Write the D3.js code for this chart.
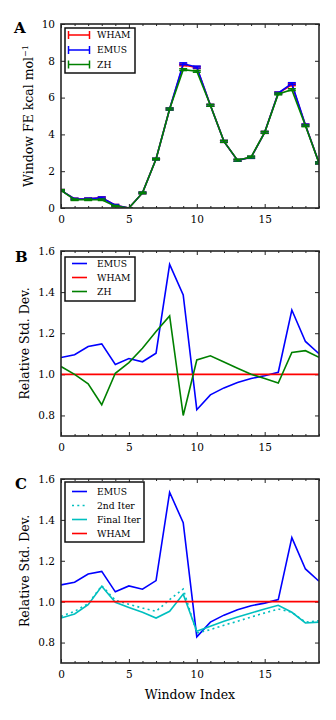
<!DOCTYPE html>
<html>
<head>
<meta charset="utf-8">
<script src="https://d3js.org/d3.v7.min.js"></script>
<style>
  body { margin: 0; background: #fff; }
  text { font-family: "DejaVu Serif", "Liberation Serif", serif; fill: #000; }
</style>
</head>
<body>
<svg id="chart" width="336" height="720"></svg>
<script>
// window indices 0..19
var windows = d3.range(0, 20);

// panel A: window free energies (kcal/mol)
var feWham = [0.96, 0.49, 0.50, 0.56, 0.15, 0.0, 0.82, 2.66, 5.38, 7.78, 7.64, 5.58, 3.62, 2.59, 2.75, 4.11, 6.25, 6.70, 4.51, 2.45];
var feEmus = [0.96, 0.49, 0.50, 0.56, 0.15, 0.0, 0.82, 2.66, 5.38, 7.84, 7.66, 5.58, 3.62, 2.59, 2.75, 4.11, 6.25, 6.76, 4.51, 2.45];
var feZh   = [0.96, 0.45, 0.45, 0.45, 0.10, 0.0, 0.82, 2.66, 5.38, 7.52, 7.43, 5.58, 3.62, 2.60, 2.77, 4.11, 6.20, 6.43, 4.47, 2.45];
var feErr  = [0.04, 0.04, 0.04, 0.04, 0.04, 0.0, 0.04, 0.04, 0.05, 0.05, 0.05, 0.05, 0.05, 0.05, 0.05, 0.05, 0.05, 0.05, 0.05, 0.05];

// panel B/C: relative standard deviation (WHAM = 1)
var rsdEmus  = [1.082, 1.095, 1.135, 1.148, 1.048, 1.077, 1.061, 1.103, 1.535, 1.386, 0.828, 0.900, 0.934, 0.960, 0.980, 0.993, 1.010, 1.313, 1.160, 1.100];
var rsdWham  = [1, 1, 1, 1, 1, 1, 1, 1, 1, 1, 1, 1, 1, 1, 1, 1, 1, 1, 1, 1];
var rsdZh    = [1.038, 1.000, 0.954, 0.852, 1.005, 1.057, 1.127, 1.208, 1.284, 0.800, 1.070, 1.090, 1.060, 1.030, 1.000, 0.980, 0.958, 1.106, 1.115, 1.083];
var rsd2nd   = [0.928, 0.953, 0.990, 1.078, 1.007, 0.987, 0.969, 0.953, 1.010, 1.062, 0.847, 0.863, 0.885, 0.904, 0.925, 0.945, 0.964, 0.948, 0.900, 0.907];
var rsdFinal = [0.920, 0.940, 0.985, 1.075, 0.997, 0.972, 0.948, 0.920, 0.953, 1.037, 0.855, 0.880, 0.904, 0.925, 0.945, 0.964, 0.982, 0.948, 0.896, 0.900];

var xTicks = [0, 5, 10, 15];
var yTicksA = [0, 2, 4, 6, 8, 10];
var yTicksB = [0.8, 1.0, 1.2, 1.4, 1.6];

var svg = d3.select("#chart");
var left = 61, right = 319;

var x = d3.scaleLinear().domain([0, 19]).range([left, right]);
var minorX = windows.filter(function(d) { return d % 5 != 0; });

function frame(y, yTicks, fmt) {
  var top = y.range()[1], bottom = y.range()[0];
  var g = svg.append("g");
  // bottom axis with labels
  g.append("g").attr("transform", "translate(0," + bottom + ")")
    .call(d3.axisBottom(x).tickValues(xTicks).tickSize(-4).tickPadding(7.5).tickFormat(d3.format("d")));
  g.append("g").attr("transform", "translate(0," + bottom + ")")
    .call(d3.axisBottom(x).tickValues(minorX).tickSize(-2).tickFormat(""));
  // top axis
  g.append("g").attr("transform", "translate(0," + top + ")")
    .call(d3.axisTop(x).tickValues(xTicks).tickSize(-4).tickFormat(""));
  g.append("g").attr("transform", "translate(0," + top + ")")
    .call(d3.axisTop(x).tickValues(minorX).tickSize(-2).tickFormat(""));
  // left / right
  g.append("g").attr("transform", "translate(" + left + ",0)")
    .call(d3.axisLeft(y).tickValues(yTicks).tickSize(-4).tickPadding(6).tickFormat(fmt));
  g.append("g").attr("transform", "translate(" + right + ",0)")
    .call(d3.axisRight(y).tickValues(yTicks).tickSize(-4).tickFormat(""));
  g.selectAll(".domain").remove();
  g.selectAll(".tick text").style("font-size", "10.5px").style("font-family", "DejaVu Serif");
  g.selectAll(".tick line").attr("stroke", "#222").attr("stroke-width", 1);
  return g;
}

function border(y) {
  var top = y.range()[1], bottom = y.range()[0];
  svg.append("rect")
    .attr("x", left).attr("y", top)
    .attr("width", right - left).attr("height", bottom - top)
    .attr("fill", "none").attr("stroke", "#262626").attr("stroke-width", 1.6);
}

function clip(y) {
  var top = y.range()[1], bottom = y.range()[0];
  svg.append("clipPath").attr("id", "clip-" + top)
    .append("rect").attr("x", left).attr("y", top).attr("width", right - left).attr("height", bottom - top);
}

function drawLine(y, vals, color, dash) {
  var line = d3.line().x(function(d, i) { return x(i); }).y(function(d) { return y(d); });
  svg.append("path").datum(vals)
    .attr("d", line)
    .attr("fill", "none")
    .attr("stroke", color)
    .attr("stroke-width", 1.6)
    .attr("stroke-dasharray", dash || null)
    .attr("clip-path", "url(#clip-" + y.range()[1] + ")");
}

function panelLabel(txt, px, py) {
  svg.append("text").attr("x", px).attr("y", py)
    .style("font-size", "15px").style("font-weight", "bold").text(txt);
}

function yLabel(txt, bx, y) {
  var cy = (y.range()[0] + y.range()[1]) / 2;
  return svg.append("text")
    .attr("transform", "translate(" + bx + "," + cy + ") rotate(-90)")
    .attr("text-anchor", "middle")
    .style("font-size", "12.5px")
    .text(txt);
}

function legend(x0, y0, w, h, items) {
  var g = svg.append("g");
  g.append("rect").attr("x", x0).attr("y", y0).attr("width", w).attr("height", h)
    .attr("fill", "#fff").attr("stroke", "#111").attr("stroke-width", 1.5);
  items.forEach(function(it) {
    if (it.err) {
      g.append("line").attr("x1", 68).attr("x2", 90).attr("y1", it.y).attr("y2", it.y)
        .attr("stroke", it.color).attr("stroke-width", 1.5);
      [68.5, 89.5].forEach(function(xx) {
        g.append("line").attr("x1", xx).attr("x2", xx).attr("y1", it.y - 4).attr("y2", it.y + 4)
          .attr("stroke", it.color).attr("stroke-width", 1.5);
      });
    } else {
      g.append("line").attr("x1", 72).attr("x2", 87).attr("y1", it.y).attr("y2", it.y)
        .attr("stroke", it.color).attr("stroke-width", 1.6)
        .attr("stroke-dasharray", it.dash || null);
    }
    g.append("text").attr("x", 97).attr("y", it.y + 3.3)
      .style("font-size", "9.2px").text(it.name);
  });
}

// ---------------- Panel A ----------------
var yA = d3.scaleLinear().domain([0, 10]).range([208, 24]);
clip(yA);
frame(yA, yTicksA, d3.format("d"));

function errSeries(vals, color) {
  drawLine(yA, vals, color);
  var g = svg.append("g").attr("clip-path", "url(#clip-24)");
  vals.forEach(function(v, i) {
    var e = feErr[i];
    g.append("line").attr("x1", x(i)).attr("x2", x(i)).attr("y1", yA(v - e)).attr("y2", yA(v + e))
      .attr("stroke", color).attr("stroke-width", 1.5);
    [v - e, v + e].forEach(function(c) {
      g.append("line").attr("x1", x(i) - 4).attr("x2", x(i) + 4).attr("y1", yA(c)).attr("y2", yA(c))
        .attr("stroke", color).attr("stroke-width", 1.5);
    });
  });
}
errSeries(feWham, "#ff0000");
errSeries(feEmus, "#0000ff");
errSeries(feZh, "#008000");
border(yA);
legend(65, 28, 70, 45, [
  {name: "WHAM", color: "#ff0000", y: 35, err: true},
  {name: "EMUS", color: "#0000ff", y: 50, err: true},
  {name: "ZH", color: "#008000", y: 64.5, err: true}
]);
panelLabel("A", 14, 33);
yLabel("", 33, yA).call(function(t) {
  t.append("tspan").text("Window FE kcal mol");
  t.append("tspan").attr("dy", -5).style("font-size", "8px").text("\u22121");
});

// ---------------- Panel B ----------------
var yB = d3.scaleLinear().domain([0.7, 1.6]).range([436, 251]);
clip(yB);
frame(yB, yTicksB, d3.format(".1f"));
drawLine(yB, rsdEmus, "#0000ff");
drawLine(yB, rsdWham, "#ff0000");
drawLine(yB, rsdZh, "#008000");
border(yB);
legend(65, 257, 70, 44, [
  {name: "EMUS", color: "#0000ff", y: 263.5},
  {name: "WHAM", color: "#ff0000", y: 277.5},
  {name: "ZH", color: "#008000", y: 291.5}
]);
panelLabel("B", 15, 262);
yLabel("Relative Std. Dev.", 29, yB);

// ---------------- Panel C ----------------
var yC = d3.scaleLinear().domain([0.7, 1.6]).range([663, 479]);
clip(yC);
frame(yC, yTicksB, d3.format(".1f"));
drawLine(yC, rsdEmus, "#0000ff");
drawLine(yC, rsd2nd, "#00bfbf", "2,3.3");
drawLine(yC, rsdFinal, "#00bfbf");
drawLine(yC, rsdWham, "#ff0000");
border(yC);
legend(65, 482, 79, 60, [
  {name: "EMUS", color: "#0000ff", y: 491.5},
  {name: "2nd Iter", color: "#00bfbf", y: 505.5, dash: "2,3.3"},
  {name: "Final Iter", color: "#00bfbf", y: 519.5},
  {name: "WHAM", color: "#ff0000", y: 533.5}
]);
panelLabel("C", 15, 489);
yLabel("Relative Std. Dev.", 29, yC);
svg.append("text").attr("x", (left + right) / 2).attr("y", 699)
  .attr("text-anchor", "middle").style("font-size", "12.5px").text("Window Index");
</script>
</body>
</html>
